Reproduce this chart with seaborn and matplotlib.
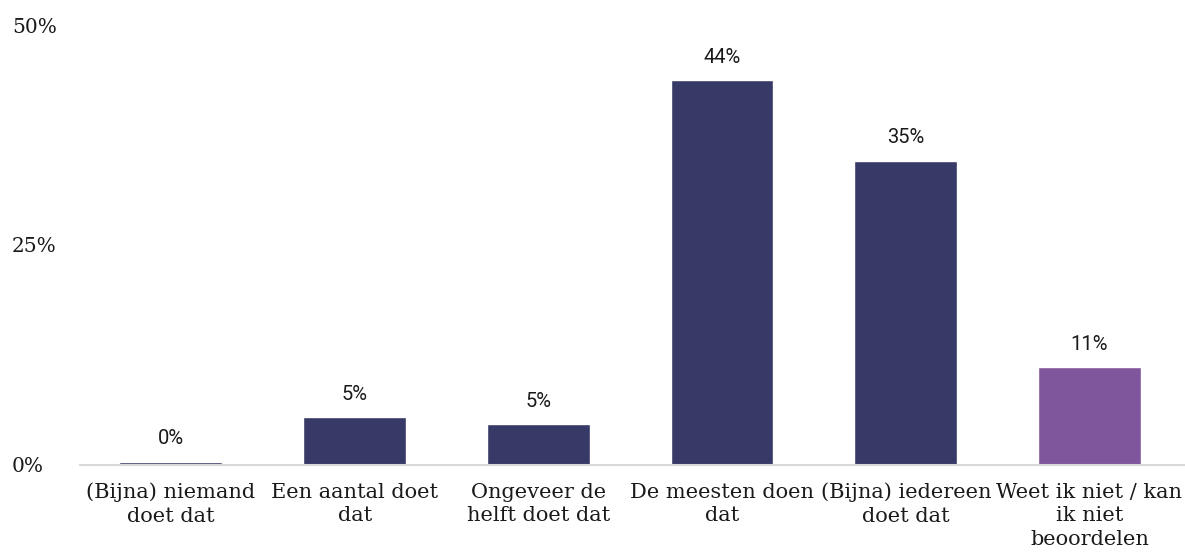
import matplotlib
matplotlib.use('Agg')
import matplotlib.pyplot as plt
import seaborn as sns
import pandas as pd

categories = ['(Bijna) niemand\ndoet dat', 'Een aantal doet\ndat', 'Ongeveer de\nhelft doet dat',
              'De meesten doen\ndat', '(Bijna) iedereen\ndoet dat', 'Weet ik niet / kan\nik niet\nbeoordelen']
values = [0.3, 5.4, 4.6, 43.8, 34.6, 11.1]
labels = ['0%', '5%', '5%', '44%', '35%', '11%']
colors = ['#373a66', '#373a66', '#373a66', '#373a66', '#373a66', '#7f559b']
yticks = [0, 25, 50]

sns.set_style('white')

df = pd.DataFrame({'category': categories, 'value': values})

fig = plt.figure(figsize=(11.85, 5.56), dpi=100)
ax = fig.add_axes([80 / 1185, 91.5 / 556, 1105 / 1185, 439 / 556])

sns.barplot(data=df, x='category', y='value', hue='category', palette=colors,
            width=0.56, legend=False, ax=ax, saturation=1)

# value labels above each bar
for i, (v, lab) in enumerate(zip(values, labels)):
    ax.annotate(lab, (i, v), xytext=(0, 16.5), textcoords='offset points',
                ha='center', va='center', fontsize=14.5, family='Roboto', color='#1a1a1a')

ax.set_xlim(-0.495, 5.52)
ax.set_ylim(0, 50)
ax.set_yticks(yticks)
ax.set_yticklabels([f'{t}%' for t in yticks], family='DejaVu Serif', fontsize=14.5, color='#1a1a1a')
ax.set_xticks(range(len(categories)))
ax.set_xticklabels(categories, family='DejaVu Serif', fontsize=15, color='#1a1a1a', linespacing=1.32)
ax.tick_params(axis='both', length=0)
ax.tick_params(axis='x', pad=13)
ax.set_xlabel('')
ax.set_ylabel('')

for s in ['top', 'right', 'left']:
    ax.spines[s].set_visible(False)
ax.spines['bottom'].set_color('#d9d9d9')
ax.spines['bottom'].set_linewidth(1.5)

for lab in ax.get_yticklabels():
    lab.set_horizontalalignment('left')
ax.tick_params(axis='y', pad=(80 - 12) * 0.72)

plt.savefig('out.png', dpi=100)
